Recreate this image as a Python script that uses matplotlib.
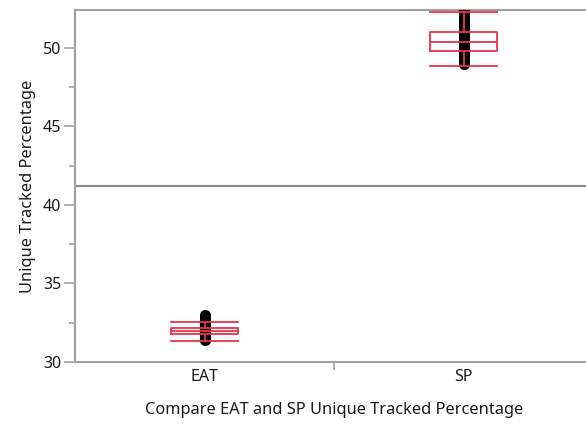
import matplotlib
matplotlib.use('Agg')
import matplotlib.pyplot as plt
from matplotlib.ticker import MultipleLocator, FixedLocator

# groups and box statistics
groups = ['EAT', 'SP']
whisker_low = [31.32, 48.88]
q1 = [31.76, 49.81]
median = [31.97, 50.38]
q3 = [32.18, 51.02]
whisker_high = [32.55, 52.30]

# individual observations (stacked points)
eat_points = [31.37, 31.45, 31.55, 31.62, 31.70, 31.76, 31.82, 31.88, 31.93, 31.97,
              32.02, 32.07, 32.12, 32.18, 32.25, 32.33, 32.42, 32.50, 32.62, 32.80, 33.00]
sp_points = [48.98, 49.15, 49.35, 49.55, 49.70, 49.81, 49.95, 50.10, 50.25, 50.38,
             50.50, 50.65, 50.80, 50.92, 51.02, 51.20, 51.40, 51.60, 51.80, 52.00, 52.20, 52.35]
grand_mean = 41.21

plt.rcParams['font.family'] = ['Noto Sans', 'DejaVu Sans']

fig = plt.figure(figsize=(5.86, 4.24), dpi=100)
ax = fig.add_axes([75 / 586, 62 / 424, 518 / 586, 352 / 424])

grey = '#a0a0a0'
red = '#e8334a'
text_col = '#1a1a1a'
pos = [0.5, 1.5]

# points
for p, pts in zip(pos, [eat_points, sp_points]):
    ax.plot([p] * len(pts), pts, 'o', color='black', markersize=7, zorder=3)

stats = []
for i, g in enumerate(groups):
    stats.append({'label': g, 'whislo': whisker_low[i], 'q1': q1[i], 'med': median[i],
                  'q3': q3[i], 'whishi': whisker_high[i], 'fliers': []})
ax.bxp(stats, positions=pos, widths=0.255, showfliers=False, manage_ticks=False,
       boxprops=dict(color=red, linewidth=1.3),
       medianprops=dict(color=red, linewidth=1.3),
       whiskerprops=dict(color=red, linewidth=1.3),
       capprops=dict(color=red, linewidth=1.3), capwidths=0.255, zorder=4)

ax.axhline(grand_mean, color='#8a8a8a', linewidth=1.5, zorder=2)

ax.set_xlim(0, 2)
ax.set_ylim(30, 52.42)
ax.set_xticks(pos)
ax.set_xticklabels(groups)
ax.xaxis.set_minor_locator(FixedLocator([1]))
ax.yaxis.set_major_locator(MultipleLocator(5))
ax.yaxis.set_minor_locator(MultipleLocator(2.5))

for s in ['left', 'bottom', 'top']:
    ax.spines[s].set_color(grey)
    ax.spines[s].set_linewidth(1.5)
ax.spines['right'].set_visible(False)

ax.tick_params(axis='y', which='major', length=8, color=grey, width=1.2, labelsize=11.5,
               labelcolor=text_col, pad=2)
ax.tick_params(axis='y', which='minor', length=4, color=grey, width=1.2)
ax.tick_params(axis='x', which='major', length=0, labelsize=11.5, labelcolor=text_col, pad=5)
ax.tick_params(axis='x', which='minor', length=6, color=grey, width=1.2)

ax.set_ylabel('Unique Tracked Percentage', fontsize=11.8, color=text_col, labelpad=5)
ax.set_xlabel('Compare EAT and SP Unique Tracked Percentage', fontsize=11.8,
              color=text_col, labelpad=12)

fig.savefig('out.png', dpi=100)
